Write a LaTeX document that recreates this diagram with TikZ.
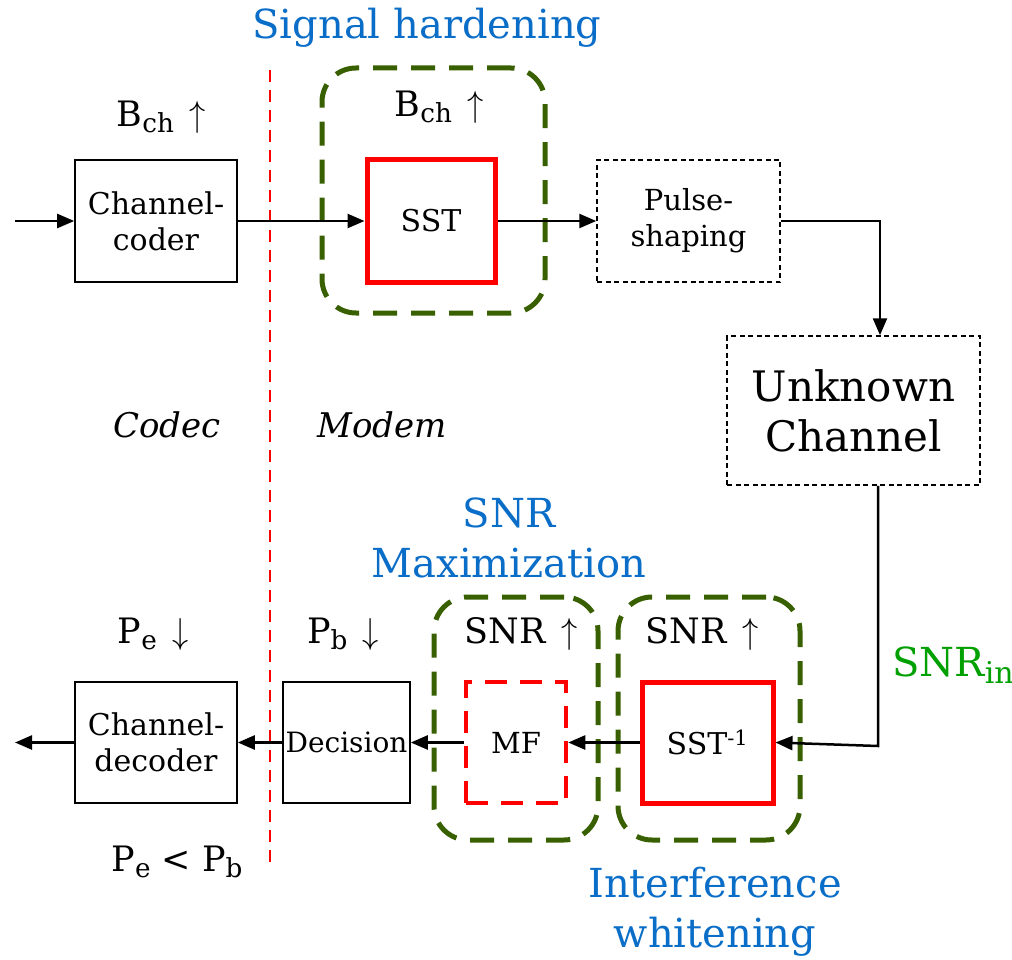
\documentclass[tikz,border=0pt]{standalone}
\usepackage{fontspec}
\usepackage{graphicx}
\setmainfont{DejaVu Serif}
\usetikzlibrary{arrows.meta}
\definecolor{dgreen}{RGB}{56,96,0}
\definecolor{tblue}{RGB}{10,110,200}
\definecolor{lgreen}{RGB}{0,160,0}
\newcommand\lowsub[1]{\raisebox{-0.35ex}{\scalebox{0.75}{#1}}}
\newcommand\upar{\hspace{0.12em}\scalebox{1.3}[1.45]{$\uparrow$}}
\newcommand\dnar{\hspace{0.12em}\scalebox{1.3}[1.45]{$\downarrow$}}
\tikzset{
  blk/.style={draw, line width=1.6pt, minimum width=162pt, minimum height=122pt, align=center, inner sep=0pt, font=\fontsize{30}{36}\selectfont},
  redbox/.style={draw=red, line width=5pt, minimum width=125pt, minimum height=118pt, inner sep=0pt, font=\fontsize{30}{36}\selectfont},
  grp/.style={draw=dgreen, line width=5pt, rounded corners=34pt, dash pattern=on 24pt off 14pt, inner sep=0pt},
  lbl/.style={font=\fontsize{35}{40}\selectfont, inner sep=0pt},
  ttl/.style={text=tblue, align=center, font=\fontsize{40}{50}\selectfont, inner sep=0pt},
  arr/.style={line width=2.5pt, -{Triangle[length=17pt,width=14pt]}},
  thindash/.style={dash pattern=on 5pt off 3.5pt, line width=1.5pt},
}
\begin{document}
\begin{tikzpicture}[x=1pt,y=-1pt]
\useasboundingbox (0,0) rectangle (1012,960);
% group boxes
\node[grp, minimum width=223pt, minimum height=245pt] (g1) at (433.5,190.5) {};
\node[grp, minimum width=164pt, minimum height=243pt] (g2) at (516,718.5) {};
\node[grp, minimum width=182pt, minimum height=243pt] (g3) at (709,718.5) {};
% blocks
\node[blk] (cc) at (156,221) {Channel-\\coder};
\node[redbox, minimum width=128pt, minimum height=122pt] (sst) at (431,221) {SST};
\node[blk, thindash, minimum width=183pt, font=\fontsize{29}{36}\selectfont] (ps) at (688.5,221) {Pulse-\\shaping};
\node[blk, thindash, minimum width=253pt, minimum height=149pt, font=\fontsize{42}{50}\selectfont] (uc) at (853.5,410.5) {Unknown\\Channel};
\node[redbox, minimum width=131pt, minimum height=121pt] (sstinv) at (707.5,742.5) {SST\textsuperscript{-1}};
\node[draw=red, line width=4.5pt, dash pattern=on 22pt off 13pt, minimum width=100pt, minimum height=121pt, inner sep=0pt, font=\fontsize{29}{36}\selectfont] (mf) at (516,742.5) {MF};
\node[blk, minimum width=127pt, minimum height=121pt, font=\fontsize{28}{36}\selectfont] (dec) at (346.5,742.5) {Decision};
\node[blk, minimum height=121pt] (cd) at (156,742.5) {Channel-\\decoder};
% labels
\node[lbl] (b1) at (161,117) {B\lowsub{ch} \upar};
\node[lbl] (b2) at (439,107) {B\lowsub{ch} \upar};
\node[lbl] (s2) at (521,634) {SNR \upar};
\node[lbl] (s3) at (702,634) {SNR \upar};
\node[lbl] (pb) at (343,634) {P\lowsub{b} \dnar};
\node[lbl] (pe) at (153,634) {P\lowsub{e} \dnar};
\node[lbl] (pepb) at (177,862) {P\lowsub{e} < P\lowsub{b}};
\node[lbl, text=lgreen, font=\fontsize{40}{44}\selectfont] (snrin) at (953,665) {SNR\lowsub{in}};
\node[lbl, font=\itshape\fontsize{34}{40}\selectfont] (codec) at (167,425) {Codec};
\node[lbl, font=\itshape\fontsize{34}{40}\selectfont] (modem) at (382,425) {Modem};
\node[ttl] (t1) at (427,28) {Signal hardening};
\node[ttl] (t2) at (509,538) {SNR\\Maximization};
\node[ttl] (t3) at (715,912) {Interference\\whitening};
% codec / modem divider
\coordinate (vt) at (270,70);
\coordinate (vb) at (270,865);
\draw[red, line width=2.8pt, dash pattern=on 12pt off 8pt] (vt) -- (vb);
% connectors
\coordinate (in) at (15,221);
\coordinate (out) at (15,742.5);
\coordinate (c1) at (880,221);
\coordinate (c2) at (878,746);
\draw[arr] (in) -- (cc.west);
\draw[arr] (cc.east) -- (sst.west);
\draw[arr] (sst.east) -- (ps.west);
\draw[arr] (ps.east) -- (c1) -- (c1 |- uc.north);
\draw[arr] (c2 |- uc.south) -- (c2) -- (sstinv.east);
\draw[arr] (sstinv.west) -- (mf.east);
\draw[arr] (mf.west) -- (dec.east);
\draw[arr] (dec.west) -- (cd.east);
\draw[arr] (cd.west) -- (out);
\end{tikzpicture}
\end{document}
